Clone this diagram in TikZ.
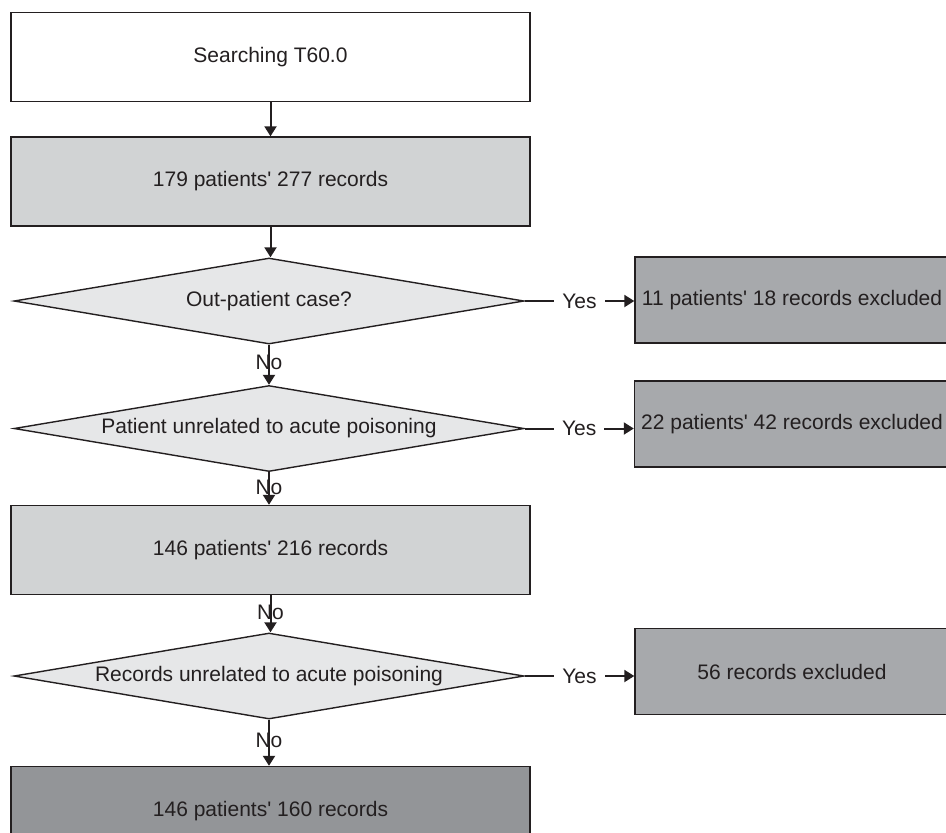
\documentclass[tikz,border=0pt]{standalone}
\usepackage{fontspec}
\setmainfont{Liberation Sans}
\usepackage{xcolor}
\usetikzlibrary{shapes.geometric, arrows.meta}
\definecolor{ink}{HTML}{231F20}
\definecolor{pale}{HTML}{E6E7E8}
\definecolor{light}{HTML}{D1D3D4}
\definecolor{mid}{HTML}{A7A9AC}
\definecolor{dark}{HTML}{939598}
\newcommand{\apos}{\textquotesingle}
\tikzset{
    flow text/.style = {text=ink, font=\fontsize{10.5}{12.6}\selectfont},
    flow box/.style = {flow text, draw=ink, line width=0.7pt, rectangle,
        minimum width=259.5pt, minimum height=44.5pt},
    exclude box/.style = {flow box, fill=mid, minimum width=157pt, minimum height=43pt},
    decision/.style = {flow text, draw=ink, line width=0.7pt, diamond, aspect=6, fill=pale,
        inner sep=0pt, minimum width=255pt, minimum height=43pt},
    flow arrow/.style = {draw=ink, line width=1pt, -{Triangle[length=5pt, width=6pt]}},
}

\begin{document}
\begin{tikzpicture}[x=0.5pt, y=-0.5pt]
        \useasboundingbox (0, 0) rectangle (946, 832);
        \clip (0, 0) rectangle (946, 832);
        % main column
        \node[flow box, fill=white] (search) at (270.5, 57) {Searching T60.0};
        \node[flow box, fill=light] (all) at (270.5, 181.5) {179 patients\apos{} 277 records};
        \node[decision] (outpt) at (269, 301) {Out-patient case?};
        \node[decision] (unrelpt) at (269, 428.5) {Patient unrelated to acute poisoning};
        \node[flow box, fill=light] (kept) at (270.5, 550) {146 patients\apos{} 216 records};
        \node[decision] (unrelrec) at (269, 676) {Records unrelated to acute poisoning};
        \node[flow box, fill=dark] (final) at (270.5, 811) {146 patients\apos{} 160 records};
        % exclusions
        \node[exclude box] (exA) at (792, 300) {11 patients\apos{} 18 records excluded};
        \node[exclude box] (exB) at (792, 424) {22 patients\apos{} 42 records excluded};
        \node[exclude box] (exC) at (792, 671.5) {56 records excluded};
        \draw[flow arrow] (search) to (all);
        \draw[flow arrow] (all.south) to (all.south |- outpt.north);
        \draw[flow arrow] (outpt) to node[flow text, pos=0.45] {No} (unrelpt);
        \draw[flow arrow] (unrelpt.south) to node[flow text, pos=0.45] {No} (unrelpt.south |- kept.north);
        \draw[flow arrow] (kept.south) to node[flow text, pos=0.45] {No} (kept.south |- unrelrec.north);
        \draw[flow arrow] (unrelrec.south) to node[flow text, pos=0.45] {No} (unrelrec.south |- final.north);
        \draw[flow arrow] (outpt.east) to node[flow text, fill=white, inner xsep=4pt] {Yes} (outpt.east -| exA.west);
        \draw[flow arrow] (unrelpt.east) to node[flow text, fill=white, inner xsep=4pt] {Yes} (unrelpt.east -| exB.west);
        \draw[flow arrow] (unrelrec.east) to node[flow text, fill=white, inner xsep=4pt] {Yes} (unrelrec.east -| exC.west);
    \end{tikzpicture}
\end{document}
